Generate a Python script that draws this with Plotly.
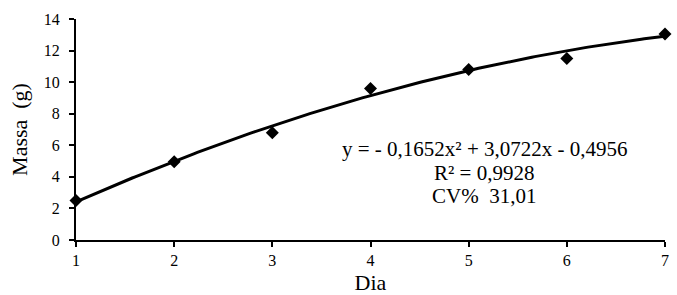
import numpy as np
import plotly.graph_objects as go

dia = [1, 2, 3, 4, 5, 6, 7]
massa = [2.5, 4.95, 6.8, 9.6, 10.8, 11.5, 13.05]
coef = [-0.1652, 3.0722, -0.4956]  # a, b, c of displayed trendline
eq_lines = ["y = - 0,1652x² + 3,0722x - 0,4956", "R² = 0,9928", "CV%  31,01"]
x_ticks = [1, 2, 3, 4, 5, 6, 7]
y_ticks = [0, 2, 4, 6, 8, 10, 12, 14]

xs = np.linspace(1, 7, 200)
ys = np.polyval(coef, xs)

FONT = "Liberation Serif"
L, R, T, B = 76, 12, 19, 55
W, H = 677, 295
pw, ph = W - L - R, H - T - B

fig = go.Figure()
fig.add_trace(go.Scatter(x=xs, y=ys, mode="lines", line=dict(color="black", width=3),
                         showlegend=False, hoverinfo="skip", cliponaxis=False))
fig.add_trace(go.Scatter(x=dia, y=massa, mode="markers",
                         marker=dict(symbol="diamond", size=10, color="black"),
                         showlegend=False, cliponaxis=False))

for i, t in enumerate(eq_lines):
    px_x, px_y = 484, 149 + 23.5 * i
    fig.add_annotation(x=(px_x - L) / pw, y=1 - (px_y - T) / ph, xref="paper", yref="paper",
                       text=t, showarrow=False, font=dict(family=FONT, size=21, color="black"),
                       xanchor="center", yanchor="middle")

fig.update_layout(
    width=W, height=H, margin=dict(l=L, r=R, t=T, b=B, autoexpand=False),
    plot_bgcolor="white", paper_bgcolor="white",
    font=dict(family=FONT, color="black"),
    xaxis=dict(range=[1, 7], tickvals=x_ticks, showgrid=False, zeroline=False,
               showline=True, linecolor="black", linewidth=2, automargin=False,
               ticks="outside", ticklen=5, tickwidth=1.5, tickcolor="black",
               tickfont=dict(size=16, family=FONT),
               title=dict(text="Dia", font=dict(size=22, family=FONT), standoff=6)),
    yaxis=dict(range=[0, 14], tickvals=y_ticks, showgrid=False, zeroline=False,
               showline=True, linecolor="black", linewidth=2, automargin=False,
               ticks="outside", ticklen=5, tickwidth=1.5, tickcolor="black",
               ticklabelstandoff=6,
               tickfont=dict(size=16, family=FONT),
               title=dict(text="Massa  (g)", font=dict(size=22, family=FONT), standoff=10)),
)
fig.write_html("out.html", config={"displayModeBar": False},
               post_script="document.body.style.margin='0';")
